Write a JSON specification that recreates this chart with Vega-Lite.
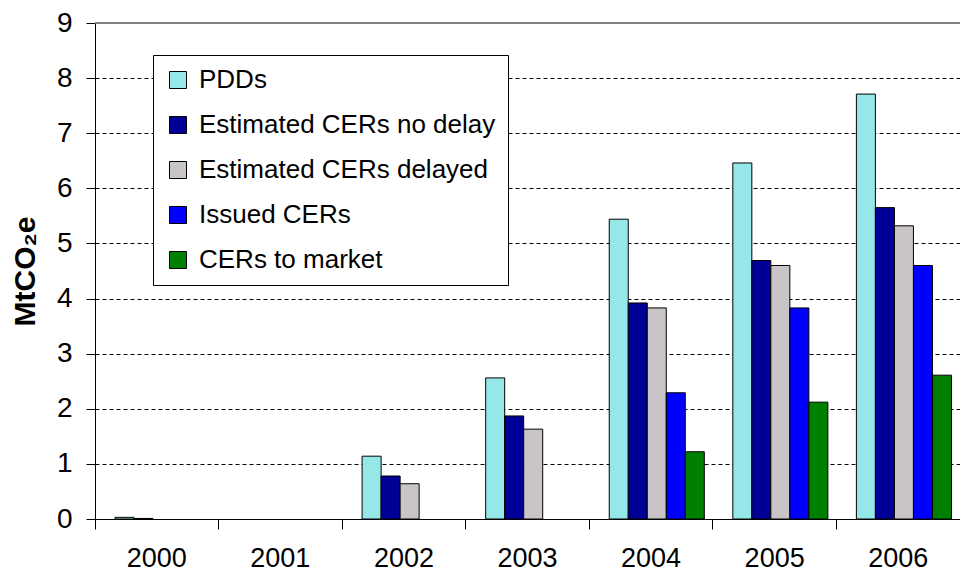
{
  "$schema": "https://vega.github.io/schema/vega-lite/v6.json",
  "width": 865,
  "height": 496,
  "autosize": {"type": "none"},
  "padding": {"left": 95, "top": 23, "right": 0, "bottom": 55},
  "background": "white",
  "config": {
    "font": "Liberation Sans",
    "view": {"stroke": null}
  },
  "data": {
    "values": [
      {"year": "2000", "series": "PDDs", "value": 0.03},
      {"year": "2000", "series": "Estimated CERs no delay", "value": 0.01},
      {"year": "2002", "series": "PDDs", "value": 1.14},
      {"year": "2002", "series": "Estimated CERs no delay", "value": 0.78},
      {"year": "2002", "series": "Estimated CERs delayed", "value": 0.64},
      {"year": "2003", "series": "PDDs", "value": 2.56},
      {"year": "2003", "series": "Estimated CERs no delay", "value": 1.87},
      {"year": "2003", "series": "Estimated CERs delayed", "value": 1.63},
      {"year": "2004", "series": "PDDs", "value": 5.44},
      {"year": "2004", "series": "Estimated CERs no delay", "value": 3.92},
      {"year": "2004", "series": "Estimated CERs delayed", "value": 3.83},
      {"year": "2004", "series": "Issued CERs", "value": 2.29},
      {"year": "2004", "series": "CERs to market", "value": 1.22},
      {"year": "2005", "series": "PDDs", "value": 6.46},
      {"year": "2005", "series": "Estimated CERs no delay", "value": 4.69},
      {"year": "2005", "series": "Estimated CERs delayed", "value": 4.6},
      {"year": "2005", "series": "Issued CERs", "value": 3.83},
      {"year": "2005", "series": "CERs to market", "value": 2.12},
      {"year": "2006", "series": "PDDs", "value": 7.71},
      {"year": "2006", "series": "Estimated CERs no delay", "value": 5.65},
      {"year": "2006", "series": "Estimated CERs delayed", "value": 5.32},
      {"year": "2006", "series": "Issued CERs", "value": 4.6},
      {"year": "2006", "series": "CERs to market", "value": 2.61}
    ]
  },
  "layer": [
    {
      "mark": {"type": "bar", "stroke": "black", "strokeWidth": 1},
      "encoding": {
        "x": {
          "field": "year",
          "type": "nominal",
          "scale": {"domain": ["2000", "2001", "2002", "2003", "2004", "2005", "2006"], "paddingInner": 0, "paddingOuter": 0},
          "axis": {
            "title": null,
            "labelAngle": 0,
            "labelFontSize": 27,
            "labelColor": "black",
            "labelPadding": 16,
            "domainColor": "black",
            "tickColor": "black",
            "tickSize": 10,
            "bandPosition": 0
          }
        },
        "xOffset": {
          "field": "series",
          "type": "nominal",
          "scale": {
            "domain": ["PDDs", "Estimated CERs no delay", "Estimated CERs delayed", "Issued CERs", "CERs to market"],
            "paddingInner": 0,
            "paddingOuter": 0.75,
            "align": 0.7
          }
        },
        "y": {
          "field": "value",
          "type": "quantitative",
          "scale": {"domain": [0, 9]},
          "axis": {
            "title": "MtCO₂e",
            "titleFontSize": 30,
            "titleFontWeight": "bold",
            "titleColor": "black",
            "titlePadding": 16,
            "values": [0, 1, 2, 3, 4, 5, 6, 7, 8, 9],
            "format": "d",
            "labelFontSize": 28,
            "labelColor": "black",
            "labelPadding": 14,
            "tickSize": 9,
            "tickColor": "black",
            "domainColor": "black",
            "grid": true,
            "gridColor": "black",
            "gridDash": [4, 3],
            "gridWidth": 1
          }
        },
        "color": {
          "field": "series",
          "type": "nominal",
          "scale": {
            "domain": ["PDDs", "Estimated CERs no delay", "Estimated CERs delayed", "Issued CERs", "CERs to market"],
            "range": ["#96E8E8", "#000096", "#C8C4C8", "#0000FF", "#008000"]
          },
          "legend": {
            "title": null,
            "orient": "none",
            "legendX": 58,
            "legendY": 32,
            "symbolType": "square",
            "symbolSize": 290,
            "symbolStrokeColor": "black",
            "symbolStrokeWidth": 1,
            "symbolOpacity": 1,
            "labelFontSize": 26,
            "labelColor": "black",
            "labelOffset": 8,
            "rowPadding": 19,
            "padding": 12,
            "strokeColor": "black",
            "fillColor": "white",
            "labelLimit": 400
          }
        }
      }
    },
    {
      "mark": {"type": "rule", "color": "#808080", "strokeWidth": 1},
      "encoding": {"y": {"datum": 9}}
    }
  ]
}
